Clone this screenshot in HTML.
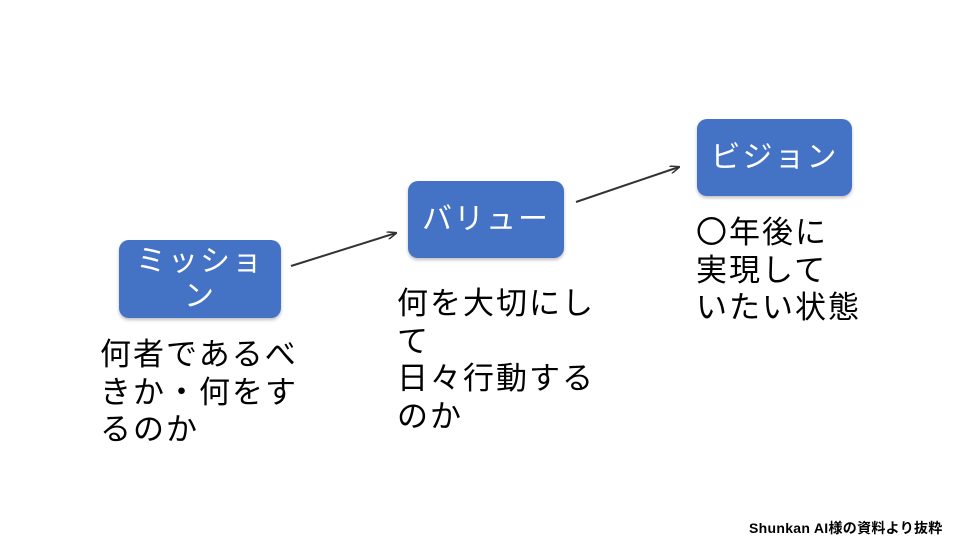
<!DOCTYPE html>
<html><head><meta charset="utf-8"><style>
body{margin:0;width:960px;height:540px;background:#fff;position:relative;overflow:hidden;font-family:"Liberation Sans","Noto Sans CJK JP",sans-serif;}
.b{position:absolute;background:#4472C4;border-radius:10px;color:#fff;font-size:30px;letter-spacing:2px;text-align:center;display:flex;align-items:center;justify-content:center;line-height:35px;box-shadow:0 2px 3px rgba(0,0,0,.25);}
.t{position:absolute;font-size:31px;letter-spacing:2px;line-height:37.5px;color:#000;white-space:nowrap;}
</style></head><body>
<div class="b" style="left:119px;top:240px;width:162px;height:78px;">ミッショ<br>ン</div>
<div class="b" style="left:408px;top:181px;width:156px;height:77px;">バリュー</div>
<div class="b" style="left:697px;top:119px;width:155px;height:77px;">ビジョン</div>
<div class="t" style="left:100px;top:336px;">何者であるべ<br>きか・何をす<br>るのか</div>
<div class="t" style="left:397px;top:285px;">何を大切にし<br>て<br>日々行動する<br>のか</div>
<div class="t" style="left:696px;top:214px;">〇年後に<br>実現して<br>いたい状態</div>
<svg width="960" height="540" style="position:absolute;left:0;top:0">
<defs><marker id="a" markerWidth="10" markerHeight="8" refX="9" refY="4" orient="auto" markerUnits="userSpaceOnUse"><path d="M0,0 L10,4 L0,8" fill="none" stroke="#333" stroke-width="1.5"/></marker></defs>
<line x1="291" y1="266" x2="396" y2="233" stroke="#333" stroke-width="2" marker-end="url(#a)"/>
<line x1="576" y1="202" x2="679" y2="167" stroke="#333" stroke-width="2" marker-end="url(#a)"/>
</svg>
<div style="position:absolute;left:749px;top:518px;font-size:14px;font-weight:bold;color:#000;white-space:nowrap;letter-spacing:0.3px;">Shunkan AI様の資料より抜粋</div>
</body></html>
